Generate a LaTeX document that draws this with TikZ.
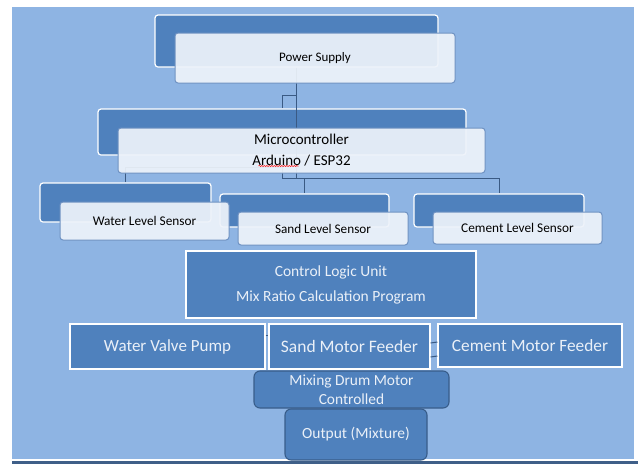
\documentclass[tikz,border=0pt]{standalone}
\usepackage{fontspec}
\setmainfont{Carlito}
\usetikzlibrary{positioning,calc,decorations.pathmorphing}

\definecolor{bgblue}{HTML}{8EB4E3}
\definecolor{boxblue}{HTML}{4F81BD}
\definecolor{paleblue}{HTML}{EEF3FA}
\definecolor{rimblue}{HTML}{6F92C2}
\definecolor{linkblue}{HTML}{3A5A84}
\definecolor{deepblue}{HTML}{385D8A}
\definecolor{barblue}{HTML}{3F5F88}
\definecolor{lighttext}{HTML}{EAF0F8}

\begin{document}
\begin{tikzpicture}[
    x=1pt, y=-1pt,
    backbox/.style={rectangle, rounded corners=3pt, draw=white, line width=1.2pt, fill=boxblue},
    frontbox/.style={rectangle, rounded corners=3pt, draw=rimblue, line width=1pt, fill=paleblue, fill opacity=0.92, text opacity=1, text=black},
    flatbox/.style={rectangle, draw=white, line width=1.1pt, fill=boxblue, text=lighttext},
    roundbox/.style={rectangle, rounded corners=6pt, draw=deepblue, line width=1.1pt, fill=boxblue, text=lighttext},
    link/.style={draw=linkblue, line width=1pt}
]
    \useasboundingbox (0,0) rectangle (638,464);
    \fill[bgblue] (12,7) rectangle (634,459);
    \fill[barblue] (12,461) rectangle (638,464);

    % back boxes
    \node[backbox, minimum width=283pt, minimum height=52pt] (psB) at (296.5,41) {};
    \node[backbox, minimum width=368pt, minimum height=46pt] (mcB) at (282,132) {};
    \node[backbox, minimum width=171pt, minimum height=39pt] (wlB) at (125.5,202.5) {};
    \node[backbox, minimum width=169pt, minimum height=33pt] (slB) at (304.5,210.5) {};
    \node[backbox, minimum width=170pt, minimum height=33pt] (clB) at (499,210.5) {};

    % connectors
    \draw[link] (psB.south) -- ++(0,28) -| (mcB.north);
    \draw[link] (psB.south) -- ($(psB.south |- mcB.south)+(0,23)$);
    \draw[link] (mcB.south) -- ++(0,12) -| (wlB.north);
    \draw[link] (mcB.south) -- ++(0,23) -| (slB.north);
    \draw[link] (mcB.south) -- ++(0,23) -| (clB.north);

    % front boxes
    \node[frontbox, minimum width=280pt, minimum height=50pt, font=\fontsize{13}{15}\selectfont] (psF) at (315,58) {Power Supply};
    \node[frontbox, minimum width=367pt, minimum height=45pt, align=center, font=\fontsize{15}{21}\selectfont] (mcF) at (301.5,150.5) {Microcontroller\\Arduino / ESP32};
    \node[frontbox, minimum width=169pt, minimum height=38pt, font=\fontsize{13.3}{15}\selectfont] (wlF) at (144.5,221) {Water Level Sensor};
    \node[frontbox, minimum width=170pt, minimum height=33pt, font=\fontsize{13.2}{15}\selectfont] (slF) at (323,228.5) {Sand Level Sensor};
    \node[frontbox, minimum width=169pt, minimum height=32pt, font=\fontsize{13.3}{15}\selectfont] (clF) at (517.5,228) {Cement Level Sensor};
    \draw[red, line width=0.5pt, decorate, decoration={snake, amplitude=0.6pt, segment length=2.5pt}]
        ($(mcF.center)+(-43,15.5)$) -- ($(mcF.center)+(-3,15.5)$);

    % logic and actuators
    \node[flatbox, minimum width=290pt, minimum height=67pt, align=center, font=\fontsize{15.5}{25}\selectfont] (clu) at (331,284.5) {Control Logic Unit\\Mix Ratio Calculation Program};
    \node[flatbox, minimum width=195pt, minimum height=45pt, font=\fontsize{17}{20}\selectfont] (wvp) at (167.5,346.5) {Water Valve Pump};
    \node[flatbox, minimum width=161pt, minimum height=45pt, font=\fontsize{17.5}{20}\selectfont] (smf) at (349.5,346.5) {\raisebox{-2pt}{Sand Motor Feeder}};
    \node[flatbox, minimum width=184pt, minimum height=43pt, font=\fontsize{17.3}{20}\selectfont] (cmf) at (530,345.5) {Cement Motor Feeder};

    \draw[link] ([yshift=11.5pt]wvp.east) -- ([yshift=11.5pt]smf.west);
    \draw[link] ([yshift=3.5pt]smf.east) -- ([yshift=3.5pt]cmf.west);
    \draw[link] ([yshift=-10.5pt]smf.east) -- ([yshift=-10.5pt]cmf.west);

    \node[roundbox, minimum width=195pt, minimum height=37pt, align=center, font=\fontsize{15.4}{19}\selectfont] (mdm) at (351.5,389.5) {Mixing Drum Motor\\Controlled};
    \node[roundbox, minimum width=142pt, minimum height=51pt, font=\fontsize{15.5}{18}\selectfont] (out) at (356,434.5) {Output (Mixture)};
\end{tikzpicture}
\end{document}
